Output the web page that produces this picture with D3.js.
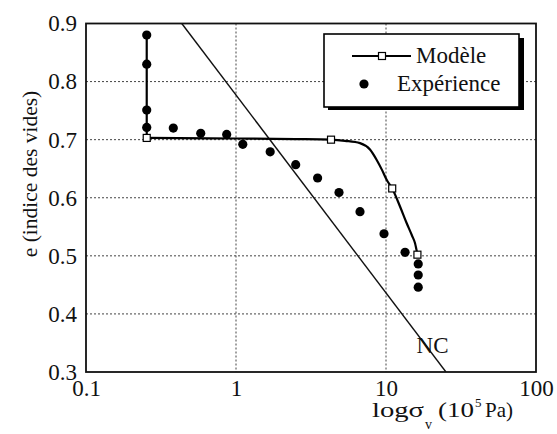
<!DOCTYPE html>
<html><head><meta charset="utf-8">
<script src="https://cdn.jsdelivr.net/npm/d3@7"></script>
<style>
body{margin:0;background:#fff;}
svg{display:block;}
</style></head>
<body><svg id="c" width="557" height="434"></svg>
<script>
// ---- data ----
const xTicks = [0.1, 1, 10, 100];
const xTickLabels = ["0.1", "1", "10", "100"];
const yTicks = [0.3, 0.4, 0.5, 0.6, 0.7, 0.8, 0.9];
const yTickLabels = ["0.3", "0.4", "0.5", "0.6", "0.7", "0.8", "0.9"];
const gridX = [1, 10];
const gridY = [0.4, 0.5, 0.6, 0.7, 0.8];

// Expérience (sigma_v [1e5 Pa], e)
const expSigma = [0.254, 0.254, 0.254, 0.254, 0.382, 0.582, 0.867, 1.11, 1.69, 2.50, 3.50, 4.86, 6.71, 9.70, 13.4, 16.4, 16.4, 16.4];
const expE     = [0.880, 0.830, 0.751, 0.721, 0.720, 0.711, 0.709, 0.692, 0.679, 0.657, 0.634, 0.609, 0.576, 0.538, 0.506, 0.486, 0.467, 0.446];

// Modèle curve: vertical unloading part, then compression part
const modVertSigma = [0.254, 0.254];
const modVertE     = [0.880, 0.703];
const modSigma = [0.254, 1.0, 2.5, 4.30, 5.33, 6.71, 7.82, 8.67, 9.40, 10.1, 11.0, 12.4, 13.7, 14.9, 15.6, 16.2];
const modE     = [0.703, 0.702, 0.701, 0.700, 0.698, 0.694, 0.683, 0.665, 0.648, 0.631, 0.616, 0.585, 0.557, 0.535, 0.522, 0.502];
// Modèle markers
const markSigma = [0.254, 4.30, 11.0, 16.2];
const markE     = [0.703, 0.700, 0.616, 0.502];

// NC line
const ncSigma = [0.435, 25.1];
const ncE     = [0.9, 0.3];

const legendLabels = ["Modèle", "Expérience"];

// ---- chart ----
const svg = d3.select("#c");
const L = 86, R = 536, T = 23.5, B = 372;
const x = d3.scaleLog().domain([0.1, 100]).range([L, R]);
const y = d3.scaleLinear().domain([0.3, 0.9]).range([B, T]);
const SERIF = '"Liberation Serif"';

const defs = svg.append("defs");
defs.append("clipPath").attr("id", "clip").append("rect")
  .attr("x", L).attr("y", T).attr("width", R - L).attr("height", B - T);

// grid
svg.append("g").selectAll("line").data(gridX).join("line")
  .attr("x1", d => x(d)).attr("x2", d => x(d)).attr("y1", T).attr("y2", B)
  .attr("stroke", "#444").attr("stroke-width", 1).attr("stroke-dasharray", "2,2");
svg.append("g").selectAll("line").data(gridY).join("line")
  .attr("y1", d => y(d)).attr("y2", d => y(d)).attr("x1", L).attr("x2", R)
  .attr("stroke", "#444").attr("stroke-width", 1).attr("stroke-dasharray", "2,2");

// axes (labels only)
const xAxis = d3.axisBottom(x).tickValues(xTicks).tickSize(0).tickPadding(8)
  .tickFormat((d, i) => xTickLabels[i]);
const gx = svg.append("g").attr("transform", `translate(0,${B})`).call(xAxis);
gx.select(".domain").remove();
gx.selectAll("text").style("font-family", SERIF).attr("font-size", 23).attr("fill", "#111");

const yAxis = d3.axisLeft(y).tickValues(yTicks).tickSize(0).tickPadding(9)
  .tickFormat((d, i) => yTickLabels[i]);
const gy = svg.append("g").attr("transform", `translate(${L},0)`).call(yAxis);
gy.select(".domain").remove();
gy.selectAll("text").style("font-family", SERIF).attr("font-size", 23).attr("fill", "#111");

// NC line
svg.append("line").attr("clip-path", "url(#clip)")
  .attr("x1", x(ncSigma[0])).attr("y1", y(ncE[0]))
  .attr("x2", x(ncSigma[1])).attr("y2", y(ncE[1]))
  .attr("stroke", "#111").attr("stroke-width", 1.4);
svg.append("text").attr("x", x(16.0)).attr("y", y(0.3326))
  .style("font-family", SERIF).attr("font-size", 23).attr("fill", "#111").text("NC");

// model curve
const lineGen = d3.line().x(d => x(d[0])).y(d => y(d[1]));
svg.append("path").datum(modVertSigma.map((s, i) => [s, modVertE[i]]))
  .attr("d", lineGen)
  .attr("fill", "none").attr("stroke", "#000").attr("stroke-width", 2.2);
svg.append("path").datum(modSigma.map((s, i) => [s, modE[i]]))
  .attr("d", lineGen.curve(d3.curveMonotoneX))
  .attr("fill", "none").attr("stroke", "#000").attr("stroke-width", 2.2);

// experiment points
const expData = expSigma.map((s, i) => [s, expE[i]]);
svg.append("g").selectAll("circle").data(expData).join("circle")
  .attr("cx", d => x(d[0])).attr("cy", d => y(d[1])).attr("r", 4.6).attr("fill", "#000");

// model markers
const markData = markSigma.map((s, i) => [s, markE[i]]);
svg.append("g").selectAll("rect").data(markData).join("rect")
  .attr("x", d => x(d[0]) - 3.5).attr("y", d => y(d[1]) - 3.5)
  .attr("width", 7).attr("height", 7)
  .attr("fill", "#fff").attr("stroke", "#000").attr("stroke-width", 1.2);

// frame
svg.append("rect").attr("x", L).attr("y", T).attr("width", R - L).attr("height", B - T)
  .attr("fill", "none").attr("stroke", "#111").attr("stroke-width", 1.8);

// legend
const lg = svg.append("g");
lg.append("rect").attr("x", 328).attr("y", 38).attr("width", 196).attr("height", 72).attr("fill", "#000");
lg.append("rect").attr("x", 324).attr("y", 34).attr("width", 195).attr("height", 73)
  .attr("fill", "#fff").attr("stroke", "#000").attr("stroke-width", 1.6);
lg.append("line").attr("x1", 352).attr("x2", 411).attr("y1", 56).attr("y2", 56)
  .attr("stroke", "#000").attr("stroke-width", 1.8);
lg.append("rect").attr("x", 378.5).attr("y", 52.5).attr("width", 7).attr("height", 7)
  .attr("fill", "#fff").attr("stroke", "#000").attr("stroke-width", 1.2);
lg.append("circle").attr("cx", 364).attr("cy", 84).attr("r", 4.6).attr("fill", "#000");
lg.append("text").attr("x", 416).attr("y", 63).style("font-family", SERIF)
  .attr("font-size", 23).attr("fill", "#111").text(legendLabels[0]);
lg.append("text").attr("x", 397).attr("y", 91).style("font-family", SERIF)
  .attr("font-size", 23).attr("fill", "#111").text(legendLabels[1]);

// axis titles
svg.append("text").attr("transform", "translate(37,174) rotate(-90)")
  .attr("text-anchor", "middle").style("font-family", SERIF)
  .attr("font-size", 21.5).attr("fill", "#111")
  .text("e (indice des vides)");

const xt = svg.append("g").attr("fill", "#111");
xt.append("text").attr("x", 372).attr("y", 417).attr("font-size", 21)
  .attr("textLength", 52).attr("lengthAdjust", "spacingAndGlyphs").style("font-family", SERIF).text("logσ");
xt.append("text").attr("x", 425).attr("y", 429).attr("font-size", 14).style("font-family", SERIF).text("v");
xt.append("text").attr("x", 438).attr("y", 417).attr("font-size", 21)
  .attr("textLength", 36).attr("lengthAdjust", "spacingAndGlyphs").style("font-family", SERIF).text("(10");
xt.append("text").attr("x", 475).attr("y", 407).attr("font-size", 13).style("font-family", SERIF).text("5");
xt.append("text").attr("x", 485).attr("y", 417).attr("font-size", 21)
  .attr("textLength", 28).attr("lengthAdjust", "spacingAndGlyphs").style("font-family", SERIF).text("Pa)");
</script></body></html>
